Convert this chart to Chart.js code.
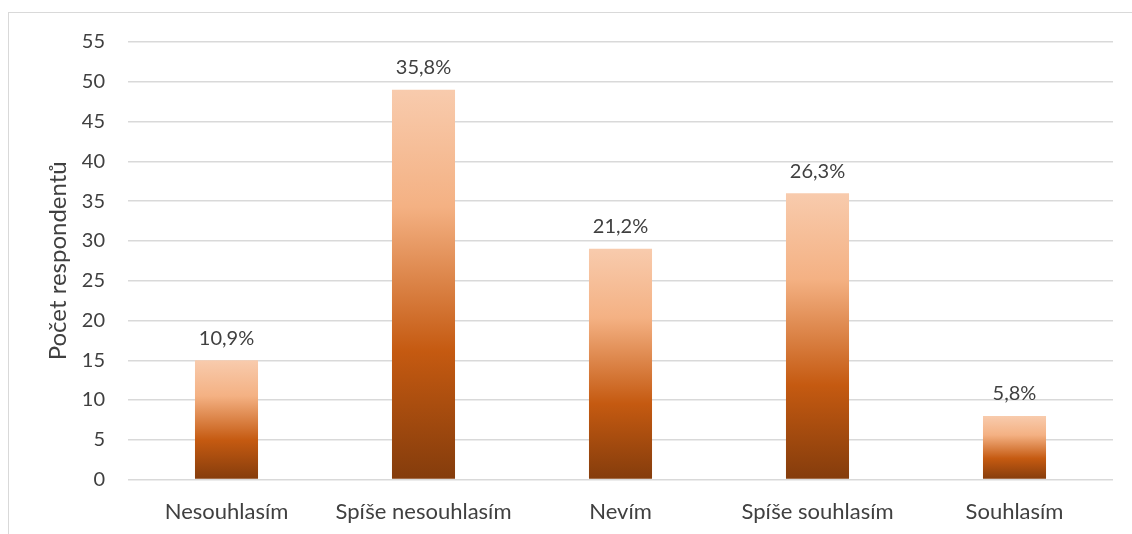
<!DOCTYPE html>
<html>
<head>
<meta charset="utf-8">
<script src="https://cdn.jsdelivr.net/npm/chart.js"></script>
<style>
    body { margin: 0; background: #fff; }
    .frame { position: absolute; left: 8px; top: 12px; width: 1124px; height: 522px; border-top: 1px solid #d9d9d9; border-left: 1px solid #d9d9d9; }
    .box { position: absolute; left: 0; top: 0; width: 1132px; height: 534px; }
</style>
</head>
<body>
<div class="frame"></div>
<div class="box"><canvas id="myChart" width="1132" height="534"></canvas></div>
<script>
let categories = ["Nesouhlasím", "Spíše nesouhlasím", "Nevím", "Spíše souhlasím", "Souhlasím"];
let respondents = [15, 49, 29, 36, 8];
let percentLabels = ["10,9%", "35,8%", "21,2%", "26,3%", "5,8%"];
let yTicks = [0, 5, 10, 15, 20, 25, 30, 35, 40, 45, 50, 55];

let fontName = "Lato";

// gradient for each bar, from its own top down to zero
function barGradient(context) {
    let chart = context.chart;
    let yScale = chart.scales.y;
    if (!yScale || context.dataIndex == undefined) return "#C55A11";
    let top = yScale.getPixelForValue(respondents[context.dataIndex]);
    let bottom = yScale.getPixelForValue(0);
    if (!isFinite(top) || !isFinite(bottom) || top == bottom) return "#C55A11";
    let g = chart.ctx.createLinearGradient(0, top, 0, bottom);
    g.addColorStop(0, "#F8CBAD");
    g.addColorStop(0.3, "#F4B183");
    g.addColorStop(0.67, "#C55A11");
    g.addColorStop(1, "#843C0C");
    return g;
}

// labels with the percent above every bar
let percentPlugin = {
    id: "percentPlugin",
    afterDatasetsDraw(chart) {
        let ctx = chart.ctx;
        let meta = chart.getDatasetMeta(0);
        ctx.save();
        ctx.font = "20px " + fontName;
        ctx.fillStyle = "#404040";
        ctx.textAlign = "center";
        ctx.textBaseline = "bottom";
        meta.data.forEach(function (bar, i) {
            ctx.fillText(percentLabels[i], bar.x, bar.y - 12);
        });
        ctx.restore();
    }
};

let myChart = new Chart(document.getElementById("myChart").getContext("2d"), {
    type: "bar",
    data: {
        labels: categories,
        datasets: [{
            data: respondents,
            backgroundColor: barGradient,
            categoryPercentage: 1,
            barPercentage: 0.32
        }]
    },
    options: {
        responsive: false,
        animation: false,
        layout: { padding: { left: 40, right: 19, top: 42, bottom: -2 } },
        plugins: {
            legend: { display: false },
            tooltip: { enabled: false }
        },
        scales: {
            x: {
                grid: { display: false },
                border: { display: false },
                ticks: { color: "#404040", font: { family: fontName, size: 22 }, padding: 11, maxRotation: 0, minRotation: 0 }
            },
            y: {
                min: 0,
                max: 55,
                afterBuildTicks: function (axis) {
                    axis.ticks = yTicks.map(function (v) { return { value: v }; });
                },
                grid: { color: "#d9d9d9", lineWidth: 1.5, drawTicks: false },
                border: { display: false },
                ticks: { color: "#404040", font: { family: fontName, size: 20 }, padding: 23 },
                title: {
                    display: true,
                    text: "Počet respondentů",
                    color: "#404040",
                    font: { family: fontName, size: 24 },
                    padding: { top: 4, bottom: -14 }
                }
            }
        }
    },
    plugins: [percentPlugin]
});
// redraw once the scales are laid out so the gradients are built
myChart.update();
</script>
</body>
</html>
